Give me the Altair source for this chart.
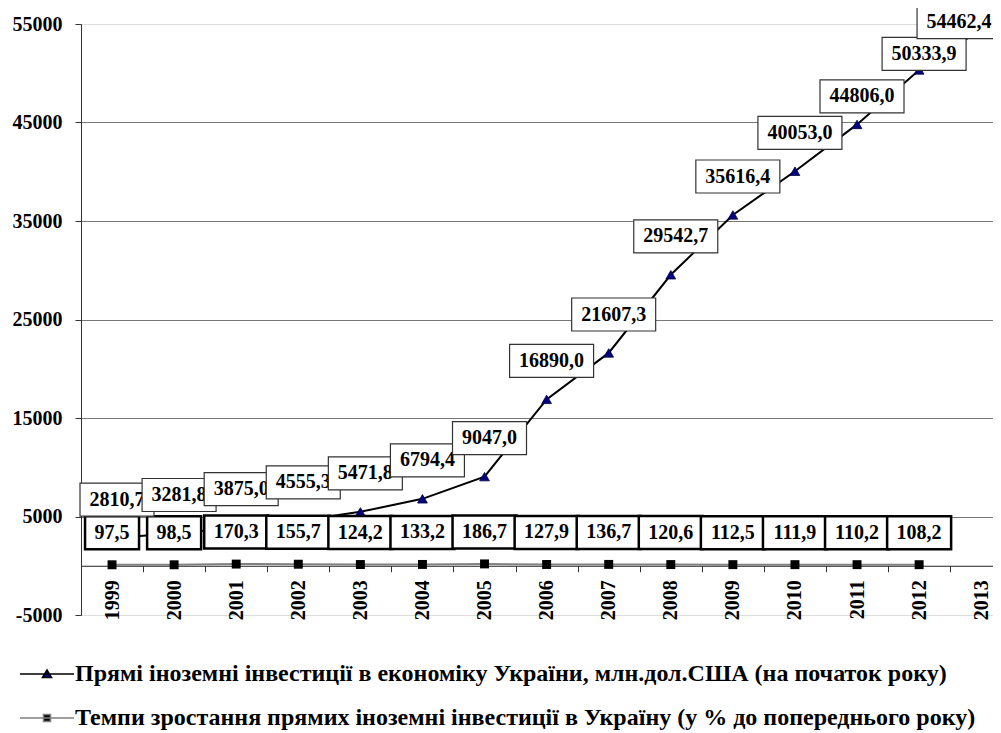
import altair as alt
import pandas as pd

# ---- data ----
years = list(range(1999, 2014))
fdi = [2810.7, 3281.8, 3875.0, 4555.3, 5471.8, 6794.4, 9047.0, 16890.0,
       21607.3, 29542.7, 35616.4, 40053.0, 44806.0, 50333.9, 54462.4]
growth_years = list(range(1999, 2013))
growth = [97.5, 98.5, 170.3, 155.7, 124.2, 133.2, 186.7, 127.9, 136.7,
          120.6, 112.5, 111.9, 110.2, 108.2]
series_names = [
    "Прямі іноземні інвестиції в економіку України, млн.дол.США (на початок року)",
    "Темпи зростання прямих іноземні інвестиції в Україну (у % до попереднього року)",
]
y_ticks = [-5000, 5000, 15000, 25000, 35000, 45000, 55000]

df_fdi = pd.DataFrame({"year": years, "v": fdi})
df_gr = pd.DataFrame({"year": growth_years, "v": growth})
df_leg = pd.DataFrame({"series": series_names})

FONT = "Liberation Serif"

x_vals = []
for y in years:
    x_vals.append(y)
    if y < years[-1]:
        x_vals.append(y + 0.5)

xscale = alt.Scale(domain=[1998.5, 2013.19], nice=False, zero=False)
yscale = alt.Scale(domain=[-5000, 55000], nice=False, zero=False)

xaxis = alt.Axis(
    values=x_vals, title=None, grid=False,
    labelExpr="datum.value % 1 == 0 ? '' + datum.value : ''",
    labelAngle=270, labelFont=FONT, labelFontSize=20, labelFontWeight="bold",
    labelColor="black", labelPadding=8, labelOverlap=False, labelFlush=False,
    tickSize=6, tickColor="#333", tickWidth=1,
    tickOpacity={"condition": {"test": "datum.value % 1 == 0", "value": 0}, "value": 1},
    domainColor="#222", domainWidth=1, offset=-49.25,
)
yaxis = alt.Axis(
    values=y_ticks, title=None, grid=True, gridColor="#777", gridWidth=1,
    gridOpacity={"condition": {"test": "datum.value == -5000 || datum.value == 55000", "value": 0}, "value": 1},
    labelExpr="'' + datum.value",
    labelFont=FONT, labelFontSize=20, labelFontWeight="bold", labelColor="black",
    labelPadding=13, tickSize=6, tickColor="#333", domainColor="#333",
)


def X(f):
    return alt.X(f"{f}:Q", scale=xscale, axis=xaxis)


def Y(f):
    return alt.Y(f"{f}:Q", scale=yscale, axis=yaxis)


label_expr = "replace(format(datum.v, '.1f'), '.', ',')"
path_expr = "'M' + (-datum.hw) + ',-16.5H' + datum.hw + 'V16.5H' + (-datum.hw) + 'Z'"

layers = []

# FDI line + triangles
base_fdi = alt.Chart(df_fdi)
layers.append(base_fdi.mark_line(color="black", strokeWidth=2).encode(x=X("year"), y=Y("v")))
layers.append(base_fdi.mark_point(shape="triangle-up", size=95, filled=True, fill="#000080",
                                  stroke="#000040", strokeWidth=0.8, opacity=1)
              .encode(x=X("year"), y=Y("v")))

# growth line + squares
base_gr = alt.Chart(df_gr)
layers.append(base_gr.mark_line(color="#808080", strokeWidth=2).encode(x=X("year"), y=Y("v")))
layers.append(base_gr.mark_square(size=80, color="black", opacity=1).encode(x=X("year"), y=Y("v")))

# growth labels
gr_lab = base_gr.transform_calculate(
    label=label_expr,
).transform_calculate(
    hw="(10 * length(datum.label) + 14) / 2",
    lx="datum.year",
    ly="datum.v + 3250",
).transform_calculate(path=path_expr)
layers.append(gr_lab.mark_point(size=4, filled=True, fill="white", stroke="black",
                                strokeWidth=2.5, opacity=1)
              .encode(x=X("lx"), y=Y("ly"), shape=alt.Shape("path:N", scale=None)))
layers.append(gr_lab.mark_text(font=FONT, fontSize=20, fontWeight="bold", color="black",
                               align="center", baseline="middle")
              .encode(x=X("lx"), y=Y("ly"), text="label:N"))

# FDI labels (each box + text in order, later ones on top)
fdi_lab = base_fdi.transform_calculate(
    label=label_expr,
).transform_calculate(
    hw="(10 * length(datum.label) + 14) / 2",
).transform_calculate(
    lx="min(datum.year + 0.08, 2013.32 - datum.hw / 62.07)",
    ly="min(datum.v + 3900 - max(0, datum.v - 40000) * 0.22, 55330)",
    path=path_expr,
)
for y in years:
    sub = fdi_lab.transform_filter(f"datum.year == {y}")
    layers.append(sub.mark_point(size=4, filled=True, fill="white", stroke="#333",
                                 strokeWidth=1.2, opacity=1)
                  .encode(x=X("lx"), y=Y("ly"), shape=alt.Shape("path:N", scale=None)))
    layers.append(sub.mark_text(font=FONT, fontSize=20, fontWeight="bold", color="black",
                                align="center", baseline="middle")
                  .encode(x=X("lx"), y=Y("ly"), text="label:N"))

# legend layer (no marks drawn, only the legend)
leg = alt.Legend(
    title=None, orient="none", legendX=-46, legendY=638, direction="vertical",
    symbolSize=4, symbolStrokeWidth=1.5, labelOffset=16, labelFont=FONT,
    labelFontSize=24, labelFontWeight="bold", labelColor="black", labelLimit=2000,
    rowPadding=20, padding=0,
)
tri_path = "M-27,0H27M-4.5,3.5L0,-4L4.5,3.5Z"
sq_path = "M-27,0H27M-3.5,-3.5H3.5V3.5H-3.5Z"
layers.append(
    alt.Chart(df_leg).transform_filter("false").mark_point(filled=True, opacity=1, strokeWidth=1.5)
    .encode(
        fill=alt.Fill("series:N", scale=alt.Scale(domain=series_names, range=["#000080", "black"]), legend=leg),
        stroke=alt.Stroke("series:N", scale=alt.Scale(domain=series_names, range=["black", "#808080"]), legend=leg),
        shape=alt.Shape("series:N", scale=alt.Scale(domain=series_names, range=[tri_path, sq_path]), legend=leg),
    )
)

chart = alt.layer(*layers).properties(
    width=912, height=591,
    padding={"left": 73, "top": 16, "right": 0, "bottom": 118},
    autosize=alt.AutoSizeParams(type="none"),
).configure_view(stroke=None).configure(background="white")

chart.save("out.html", embed_options={"renderer": "svg", "actions": False})
